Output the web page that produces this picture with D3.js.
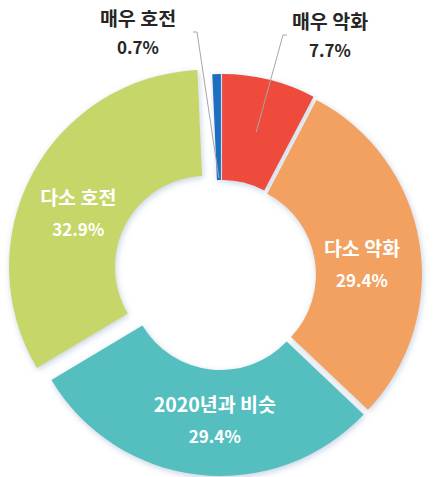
<!DOCTYPE html>
<html>
<head>
<meta charset="utf-8">
<script src="https://d3js.org/d3.v7.min.js"></script>
<style>
  body { margin:0; background:#fff; }
  text { font-family:"Noto Sans CJK KR", "Noto Sans", sans-serif; font-weight:bold; }
</style>
</head>
<body>
<div id="chart"></div>
<script>
// data
var labels = ["매우 악화", "다소 악화", "2020년과 비슷", "다소 호전", "매우 호전"];
var values = [7.7, 29.4, 29.4, 32.9, 0.7];
var pctText = ["7.7%", "29.4%", "29.4%", "32.9%", "0.7%"];

var colours = ["#EF4B3D", "#F2A160", "#55BFC0", "#C7D668", "#1D6EC0"];

const width = 437, height = 477;
const cx = 221, cy = 275;
const outerR = 197, innerR = 91;

// how far each slice is pulled out
var explode = { "다소 호전": 17 };
const defaultExplode = 4;

const svg = d3.select("#chart").append("svg")
    .attr("width", width)
    .attr("height", height);

var defs = svg.append("defs");
var f = defs.append("filter").attr("id", "shadow")
    .attr("x", "-20%").attr("y", "-20%").attr("width", "140%").attr("height", "140%");
f.append("feDropShadow")
    .attr("dx", 1).attr("dy", 2)
    .attr("stdDeviation", 3)
    .attr("flood-color", "#7f9cbd")
    .attr("flood-opacity", 0.45);

var dataset = labels.map(function(l, i) {
    return { label: l, value: values[i], pct: pctText[i], colour: colours[i] };
});

var pie = d3.pie().sort(null).value(function(d) { return d.value; })
    .startAngle(0).endAngle(2 * Math.PI);
var arc = d3.arc().innerRadius(innerR).outerRadius(outerR);

var arcs = pie(dataset);

function shift(d) {
    var a = (d.startAngle + d.endAngle) / 2;
    var e = explode[d.data.label] != null ? explode[d.data.label] : defaultExplode;
    return [Math.sin(a) * e, -Math.cos(a) * e];
}

var g = svg.append("g").attr("transform", "translate(" + cx + "," + cy + ")");

g.selectAll("path.slice")
    .data(arcs)
    .enter()
    .append("path")
    .attr("class", "slice")
    .attr("d", arc)
    .attr("fill", function(d) { return d.data.colour; })
    .attr("filter", "url(#shadow)")
    .attr("transform", function(d) { return "translate(" + shift(d) + ")"; });

// labels inside the ring (small nudges from the centroid)
var inside = { "다소 악화": [-5, -1], "2020년과 비슷": [10, -16], "다소 호전": [-1, 0] };

var inner = g.selectAll("g.inlabel")
    .data(arcs.filter(function(d) { return inside[d.data.label]; }))
    .enter()
    .append("g")
    .attr("class", "inlabel")
    .attr("transform", function(d) {
        var c = arc.centroid(d), s = shift(d), n = inside[d.data.label];
        return "translate(" + (c[0] + s[0] + n[0]) + "," + (c[1] + s[1] + n[1]) + ")";
    });
inner.append("text")
    .attr("text-anchor", "middle")
    .attr("y", 6)
    .attr("fill", "#fff")
    .style("font-size", "19.5px")
    .text(function(d) { return d.data.label; });
inner.append("text")
    .attr("text-anchor", "middle")
    .attr("y", 37)
    .attr("fill", "#fff")
    .style("font-size", "17px")
    .text(function(d) { return d.data.pct; });

// labels outside with leader lines
var outside = {
    "매우 호전": { pos: [138 - cx, 20 - cy], line: [[193 - cx, 32 - cy], [197 - cx, 32 - cy]], endR: 93 },
    "매우 악화": { pos: [330 - cx, 23 - cy], line: [[287 - cx, 35 - cy], [283 - cx, 35 - cy]], endR: 143 }
};

arcs.filter(function(d) { return outside[d.data.label]; }).forEach(function(d) {
    var o = outside[d.data.label];
    var s = shift(d);
    var a = (d.startAngle + d.endAngle) / 2;
    var end = [s[0] + Math.sin(a) * o.endR, s[1] - Math.cos(a) * o.endR];
    g.append("path")
        .attr("d", d3.line()([o.line[0], o.line[1], end]))
        .attr("fill", "none")
        .attr("stroke", "#a6a6a6")
        .attr("stroke-width", 1);
    g.append("text")
        .attr("x", o.pos[0]).attr("y", o.pos[1] + 6)
        .attr("text-anchor", "middle")
        .attr("fill", "#262626")
        .style("font-size", "19.5px")
        .text(d.data.label);
    g.append("text")
        .attr("x", o.pos[0]).attr("y", o.pos[1] + 34)
        .attr("text-anchor", "middle")
        .attr("fill", "#262626")
        .style("font-size", "17px")
        .text(d.data.pct);
});
</script>
</body>
</html>
